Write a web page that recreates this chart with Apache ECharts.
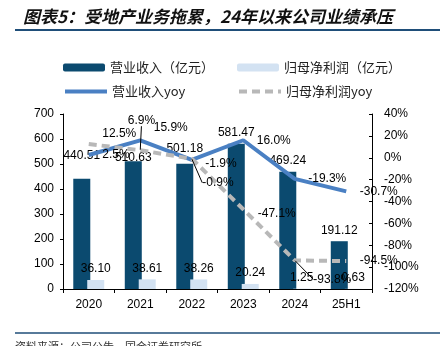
<!DOCTYPE html>
<html>
<head>
<meta charset="utf-8">
<script src="https://cdn.jsdelivr.net/npm/echarts@6/dist/echarts.min.js"></script>
<style>
  html, body { margin: 0; padding: 0; background: #fff; }
  #chart { width: 440px; height: 346px; }
</style>
</head>
<body>
<div id="chart"></div>
<script>
// 数据
const years = ["2020", "2021", "2022", "2023", "2024", "25H1"];
const revenue = [440.51, 510.63, 501.18, 581.47, 469.24, 191.12];
const netProfit = [36.10, 38.61, 38.26, 20.24, 1.25, 0.63];
const revenueYoy = [2.5, 15.9, -1.9, 16.0, -19.3, -30.7];
const netProfitYoy = [12.5, 6.9, -0.9, -47.1, -93.8, -94.5];

// 标签微调（像素）
const revLabelDy = [-12, 7, -4, 0, 0, 0];
const revYoyDy = [0, -13, 4, 0, 0, 0];
const netYoyDx = [0, -26, -3, 1, 5, 0];
const netYoyDy = [-10, -30, 24, 4, 19, 0];
const leader = [false, true, true, false, true, false];

const font = "Liberation Sans, Arial, sans-serif";
const cjk = "Noto Sans CJK SC, sans-serif";
const clear = "rgba(0,0,0,0)";

const myChart = echarts.init(document.getElementById("chart"));
myChart.setOption({
  animation: false,
  title: {
    text: "图表5：受地产业务拖累，24年以来公司业绩承压",
    left: 18,
    top: 3,
    textStyle: {
      fontFamily: cjk,
      fontSize: 17,
      fontWeight: "bold",
      fontStyle: "italic",
      color: "#111",
    },
  },
  graphic: [
    {
      type: "line",
      shape: { x1: 15, y1: 30, x2: 440, y2: 30 },
      style: { stroke: "#1f4e79", lineWidth: 2 },
    },
    {
      type: "line",
      shape: { x1: 15, y1: 333, x2: 440, y2: 333 },
      style: { stroke: "#1f4e79", lineWidth: 1.5 },
    },
    {
      type: "text",
      left: 15,
      top: 341,
      style: {
        text: "资料来源：公司公告，国金证券研究所",
        font: "11px " + cjk,
        fill: "#333",
      },
    },
  ],
  legend: [
    {
      data: ["营业收入（亿元）"],
      left: 58, top: 56,
      itemWidth: 42, itemHeight: 8,
      textStyle: { fontFamily: cjk, fontSize: 13, color: "#222" },
    },
    {
      data: ["归母净利润（亿元）"],
      left: 232, top: 56,
      itemWidth: 42, itemHeight: 8,
      textStyle: { fontFamily: cjk, fontSize: 13, color: "#222" },
    },
    {
      data: ["营业收入yoy"],
      left: 58, top: 80,
      itemWidth: 42, itemHeight: 14,
      lineStyle: { width: 4 },
      textStyle: { fontFamily: cjk, fontSize: 13, color: "#222" },
    },
    {
      data: ["归母净利润yoy"],
      left: 232, top: 80,
      itemWidth: 42, itemHeight: 14,
      lineStyle: { width: 4 },
      textStyle: { fontFamily: cjk, fontSize: 13, color: "#222" },
    },
  ],
  grid: { left: 63, right: 68, top: 114, bottom: 57 },
  xAxis: {
    type: "category",
    data: years,
    axisLine: { lineStyle: { color: "#000", width: 1 } },
    axisTick: { show: true, length: 4, lineStyle: { color: "#000" } },
    axisLabel: { color: "#000", fontFamily: font, fontSize: 12, margin: 10 },
  },
  yAxis: [
    {
      type: "value",
      min: 0,
      max: 700,
      interval: 100,
      splitLine: { show: false },
      axisLine: { show: true, lineStyle: { color: "#000" } },
      axisTick: { show: true, length: 3, lineStyle: { color: "#000" } },
      axisLabel: { color: "#000", fontFamily: font, fontSize: 12, margin: 9 },
    },
    {
      type: "value",
      min: -120,
      max: 40,
      interval: 20,
      splitLine: { show: false },
      axisLine: { show: true, lineStyle: { color: "#000" } },
      axisTick: { show: true, inside: true, length: 3, lineStyle: { color: "#000" } },
      axisLabel: {
        color: "#000",
        fontFamily: font,
        fontSize: 12,
        margin: 12,
        formatter: "{value}%",
      },
    },
  ],
  series: [
    {
      name: "营业收入（亿元）",
      type: "bar",
      data: revenue,
      barWidth: 17,
      barGap: "-18%",
      itemStyle: { color: "#0b4a6f" },
      label: {
        show: true,
        position: "top",
        distance: 5,
        color: "#000",
        fontFamily: font,
        fontSize: 12,
        formatter: (p) => p.value.toFixed(2),
      },
      labelLayout: (p) => ({ dy: revLabelDy[p.dataIndex] }),
      z: 2,
    },
    {
      name: "归母净利润（亿元）",
      type: "bar",
      data: netProfit,
      barWidth: 17,
      itemStyle: { color: "#d3e2f2" },
      label: {
        show: true,
        position: "top",
        distance: 5,
        color: "#000",
        fontFamily: font,
        fontSize: 12,
        formatter: (p) => p.value.toFixed(2),
      },
      z: 2,
    },
    {
      name: "营业收入yoy",
      type: "line",
      yAxisIndex: 1,
      data: revenueYoy,
      symbol: "circle",
      symbolSize: 1,
      color: "#4a80c3",
      itemStyle: { color: clear, borderWidth: 0 },
      lineStyle: { color: "#4a80c3", width: 4 },
      label: {
        show: true,
        position: "right",
        distance: 13,
        color: "#000",
        fontFamily: font,
        fontSize: 12,
        formatter: (p) => p.value.toFixed(1) + "%",
      },
      labelLayout: (p) => ({ dy: revYoyDy[p.dataIndex] }),
      z: 3,
    },
    {
      name: "归母净利润yoy",
      type: "line",
      yAxisIndex: 1,
      data: netProfitYoy.map((v, i) => ({
        value: v,
        labelLine: { show: leader[i] },
      })),
      symbol: "circle",
      symbolSize: 1,
      color: "#b8b8b8",
      itemStyle: { color: clear, borderWidth: 0 },
      lineStyle: { color: "#b8b8b8", width: 4, type: [8, 5] },
      label: {
        show: true,
        position: "right",
        distance: 13,
        color: "#000",
        fontFamily: font,
        fontSize: 12,
        formatter: (p) => p.value.toFixed(1) + "%",
      },
      labelLine: { show: false, lineStyle: { color: "#000", width: 1 } },
      labelLayout: (p) => ({
        dx: netYoyDx[p.dataIndex],
        dy: netYoyDy[p.dataIndex],
      }),
      z: 3,
    },
  ],
});
</script>
</body>
</html>
